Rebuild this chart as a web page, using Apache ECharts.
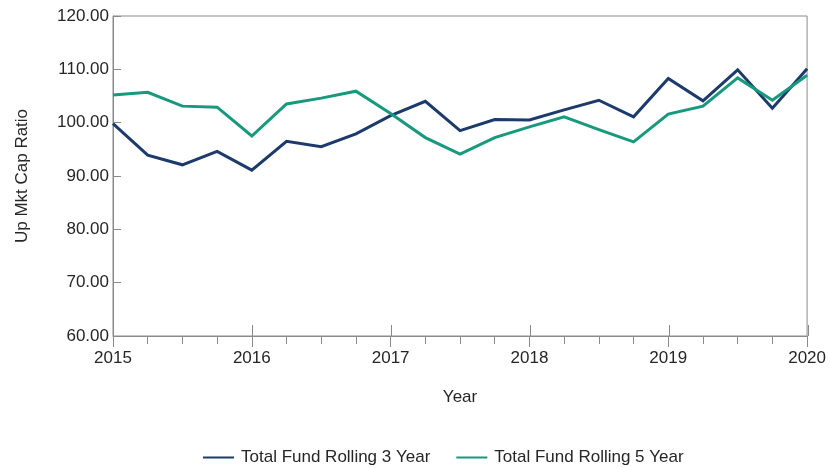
<!DOCTYPE html>
<html>
<head>
<meta charset="utf-8">
<title>Up Market Capture Ratio</title>
<script src="https://cdn.jsdelivr.net/npm/echarts@6/dist/echarts.min.js"></script>
<style>
  html, body { margin: 0; padding: 0; background: #ffffff; }
  #chart { width: 829px; height: 468px; }
</style>
</head>
<body>
<div id="chart"></div>
<script>
// Quarter-end dates expressed as decimal years
const quarters = [
  2015.00, 2015.25, 2015.50, 2015.75,
  2016.00, 2016.25, 2016.50, 2016.75,
  2017.00, 2017.25, 2017.50, 2017.75,
  2018.00, 2018.25, 2018.50, 2018.75,
  2019.00, 2019.25, 2019.50, 2019.75,
  2020.00
];

// Up market capture ratio, rolling 3-year window
const rolling3Year = [
  99.8, 93.9, 92.1, 94.6,
  91.1, 96.5, 95.5, 97.9,
  101.3, 104.0, 98.5, 100.6,
  100.5, 102.4, 104.2, 101.1,
  108.3, 104.1, 109.9, 102.7,
  110.1
];

// Up market capture ratio, rolling 5-year window
const rolling5Year = [
  105.2, 105.7, 103.1, 102.9,
  97.5, 103.5, 104.6, 105.9,
  101.7, 97.2, 94.1, 97.2,
  99.2, 101.1, 98.7, 96.4,
  101.6, 103.1, 108.4, 104.2,
  108.9
];

const seriesNames = ['Total Fund Rolling 3 Year', 'Total Fund Rolling 5 Year'];
const seriesColors = ['#1c3a6c', '#16997c'];

const yTicks = { min: 60, max: 120, step: 10 };
const xTicks = { min: 2015, max: 2020, step: 1 };

const FONT = "'Liberation Sans', Arial, sans-serif";
const TEXT = '#262626';
const FRAME = '#8a8a8a';

const gridBox = { left: 113, right: 21, top: 16, bottom: 132 };

const pairs = (xs, ys) => xs.map((x, i) => [x, ys[i]]);

const chart = echarts.init(document.getElementById('chart'), null, { renderer: 'canvas' });

chart.setOption({
  animation: false,
  backgroundColor: '#ffffff',
  textStyle: { fontFamily: FONT, color: TEXT },
  grid: [
    Object.assign({ show: true, borderColor: FRAME, borderWidth: 1, backgroundColor: 'transparent', containLabel: false }, gridBox),
    Object.assign({ show: false, containLabel: false }, gridBox)
  ],
  legend: {
    data: seriesNames,
    left: 198,
    top: 444,
    icon: 'rect',
    itemWidth: 31,
    itemHeight: 2,
    itemGap: 26,
    textStyle: { fontFamily: FONT, fontSize: 17, color: TEXT, padding: [0, 0, 0, 2] }
  },
  xAxis: [
    {
      type: 'value',
      gridIndex: 0,
      min: xTicks.min,
      max: xTicks.max,
      interval: xTicks.step,
      name: 'Year',
      nameLocation: 'middle',
      nameGap: 53,
      nameTextStyle: { fontFamily: FONT, fontSize: 17, color: TEXT },
      axisLine: { show: true, lineStyle: { color: FRAME, width: 1 } },
      axisTick: { show: true, inside: false, length: 11, lineStyle: { color: FRAME } },
      minorTick: { show: true, splitNumber: 4, length: 8, lineStyle: { color: FRAME } },
      splitLine: { show: false },
      axisLabel: {
        margin: 14,
        fontFamily: FONT, fontSize: 17, color: TEXT,
        formatter: v => String(Math.round(v))
      }
    },
    {
      // upward half of the yearly ticks
      type: 'value',
      gridIndex: 1,
      min: xTicks.min,
      max: xTicks.max,
      interval: xTicks.step,
      axisLine: { show: false },
      axisTick: { show: true, inside: true, length: 11, lineStyle: { color: FRAME } },
      axisLabel: { show: false },
      splitLine: { show: false }
    }
  ],
  yAxis: [
    {
      type: 'value',
      gridIndex: 0,
      min: yTicks.min,
      max: yTicks.max,
      interval: yTicks.step,
      name: 'Up Mkt Cap Ratio',
      nameLocation: 'middle',
      nameGap: 82,
      nameTextStyle: { fontFamily: FONT, fontSize: 17, color: TEXT },
      axisLine: { show: true, lineStyle: { color: FRAME, width: 1 } },
      axisTick: { show: true, inside: true, length: 8, lineStyle: { color: FRAME } },
      splitLine: { show: false },
      axisLabel: {
        margin: 4,
        fontFamily: FONT, fontSize: 17, color: TEXT,
        formatter: v => v.toFixed(2)
      }
    },
    {
      type: 'value',
      gridIndex: 1,
      min: yTicks.min,
      max: yTicks.max,
      show: false
    }
  ],
  series: [
    {
      name: seriesNames[0],
      type: 'line',
      xAxisIndex: 0,
      yAxisIndex: 0,
      data: pairs(quarters, rolling3Year),
      showSymbol: false,
      symbol: 'none',
      color: seriesColors[0],
      lineStyle: { color: seriesColors[0], width: 3, join: 'miter' }
    },
    {
      name: seriesNames[1],
      type: 'line',
      xAxisIndex: 0,
      yAxisIndex: 0,
      data: pairs(quarters, rolling5Year),
      showSymbol: false,
      symbol: 'none',
      color: seriesColors[1],
      lineStyle: { color: seriesColors[1], width: 3, join: 'miter' }
    }
  ]
});
</script>
</body>
</html>
